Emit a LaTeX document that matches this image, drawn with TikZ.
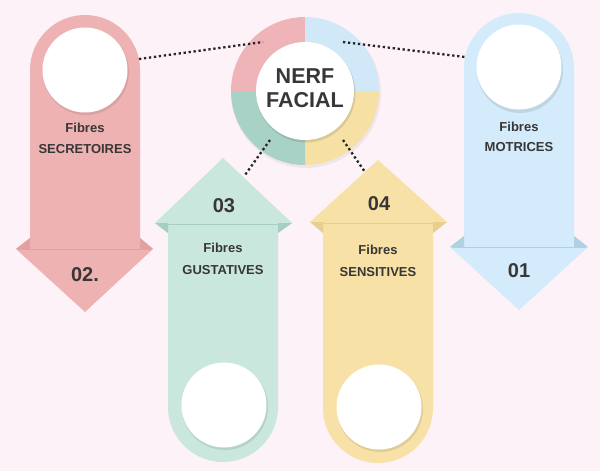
\documentclass[tikz,border=0pt]{standalone}
\usepackage{fontspec}
\setmainfont{Liberation Sans}
\definecolor{bg}{HTML}{FCF2F8}
\definecolor{pinkA}{HTML}{EFB2B2}
\definecolor{pinkD}{HTML}{E2A0A0}
\definecolor{blueA}{HTML}{D3EBFB}
\definecolor{blueD}{HTML}{AFD2E3}
\definecolor{greenA}{HTML}{C9E7DC}
\definecolor{greenD}{HTML}{A6CEC2}
\definecolor{yellowA}{HTML}{F7E1A6}
\definecolor{yellowD}{HTML}{E8CF91}
\definecolor{pinkR}{HTML}{EFB4B7}
\definecolor{blueR}{HTML}{D0E8F8}
\definecolor{yellowR}{HTML}{F6E0A3}
\definecolor{greenR}{HTML}{A8D2C5}
\definecolor{txt}{HTML}{383636}
\begin{document}
\begin{tikzpicture}[x=1pt,y=-1pt,
  hole/.style={circle,fill=white,minimum size=85pt,inner sep=0pt},
  holeshadow/.style={fill=black,opacity=0.09},
  lbl/.style={text=txt,font=\fontsize{13}{15}\selectfont\bfseries,anchor=base,inner sep=0pt},
  num/.style={text=txt,font=\fontsize{20}{22}\selectfont\bfseries,anchor=base,inner sep=0pt},
  ttl/.style={text=txt,font=\fontsize{21.5}{24}\selectfont\bfseries,anchor=base,inner sep=0pt},
  dots/.style={draw=black!85,line width=2.3pt,dash pattern=on 2.3pt off 2.7pt}]
\fill[bg] (0,0) rectangle (600,471);
\useasboundingbox (0,0) rectangle (600,471);

% ---- pink arrow (02)
\fill[pinkA] (30,238) -- (30,70) arc[start angle=180,end angle=360,radius=55] -- (140,238) -- (153,249) -- (85,312) -- (16,249) -- cycle;
\fill[pinkD] (30,238) -- (16,249) -- (30,249) -- cycle;
\fill[pinkD] (140,238) -- (153,249) -- (140,249) -- cycle;
\draw[pinkD,line width=1.5pt] (18,249.5) -- (151,249.5);
\fill[holeshadow] (86,72) circle (43);
\node[hole] (h2) at (85,70) {};
\node[lbl] (f2) at (85,132) {Fibres};
\node[lbl] (t2) at (85,153) {SECRETOIRES};
\node[num] (n2) at (85,281) {02.};

% ---- blue arrow (01)
\fill[blueA] (464,236) -- (464,68) arc[start angle=180,end angle=360,radius=55] -- (574,236) -- (588,247) -- (519,310) -- (450,247) -- cycle;
\fill[blueD] (464,236) -- (450,247) -- (464,247) -- cycle;
\fill[blueD] (574,236) -- (588,247) -- (574,247) -- cycle;
\draw[blueD,line width=1.5pt] (452,247.5) -- (586,247.5);
\fill[holeshadow] (520,70) circle (43);
\node[hole] (h1) at (519,67) {};
\node[lbl] (f1) at (519,131) {Fibres};
\node[lbl] (t1) at (519,151) {MOTRICES};
\node[num] (n1) at (519,277) {01};

% ---- green arrow (03)
\fill[greenA] (168,233) -- (168,407) arc[start angle=180,end angle=0,radius=55] -- (278,233) -- (292,223) -- (223,158) -- (155,223) -- cycle;
\fill[greenD] (168,233) -- (155,223) -- (168,223) -- cycle;
\fill[greenD] (278,233) -- (292,223) -- (278,223) -- cycle;
\draw[greenD,line width=1.5pt] (157,224.5) -- (290,224.5);
\fill[holeshadow] (225,407) circle (43);
\node[hole] (h3) at (224,405) {};
\node[lbl] (f3) at (223,252) {Fibres};
\node[lbl] (t3) at (223,274) {GUSTATIVES};
\node[num] (n3) at (224,212) {03};

% ---- yellow arrow (04)
\fill[yellowA] (323,233) -- (323,408) arc[start angle=180,end angle=0,radius=55] -- (433,233) -- (447,222) -- (378,160) -- (310,222) -- cycle;
\fill[yellowD] (323,233) -- (310,222) -- (323,222) -- cycle;
\fill[yellowD] (433,233) -- (447,222) -- (433,222) -- cycle;
\draw[yellowD,line width=1.5pt] (312,223.5) -- (445,223.5);
\fill[holeshadow] (380,409) circle (43);
\node[hole] (h4) at (379,407) {};
\node[lbl] (f4) at (378,254) {Fibres};
\node[lbl] (t4) at (378,276) {SENSITIVES};
\node[num] (n4) at (379,210) {04};

% ---- central ring
\fill[black,opacity=0.05] (306,93) circle (75);
\fill[pinkR] (305,91) -- ++(180:74) arc[start angle=180,end angle=270,radius=74] -- cycle;
\fill[blueR] (305,91) -- ++(270:74) arc[start angle=270,end angle=360,radius=74] -- cycle;
\fill[yellowR] (305,91) -- ++(0:74) arc[start angle=0,end angle=90,radius=74] -- cycle;
\fill[greenR] (305,91) -- ++(90:74) arc[start angle=90,end angle=180,radius=74] -- cycle;
\fill[black,opacity=0.11] (306,93) circle (49.5);
\node[circle,fill=white,minimum size=98pt,inner sep=0pt] (core) at (305,91) {};
\node[ttl] (ttl1) at (305,83) {NERF};
\node[ttl] (ttl2) at (305,107) {FACIAL};

% ---- dotted connectors
\coordinate (rp) at (263,42);
\coordinate (rb) at (343,42);
\coordinate (rg) at (270,140);
\coordinate (ry) at (343,140);
\coordinate (ap) at (139,59);
\coordinate (ab) at (465,57);
\coordinate (ag) at (245,175);
\coordinate (ay) at (365,172);
\draw[dots] (ap) -- (rp);
\draw[dots] (rb) -- (ab);
\draw[dots] (rg) -- (ag);
\draw[dots] (ry) -- (ay);
\end{tikzpicture}
\end{document}
